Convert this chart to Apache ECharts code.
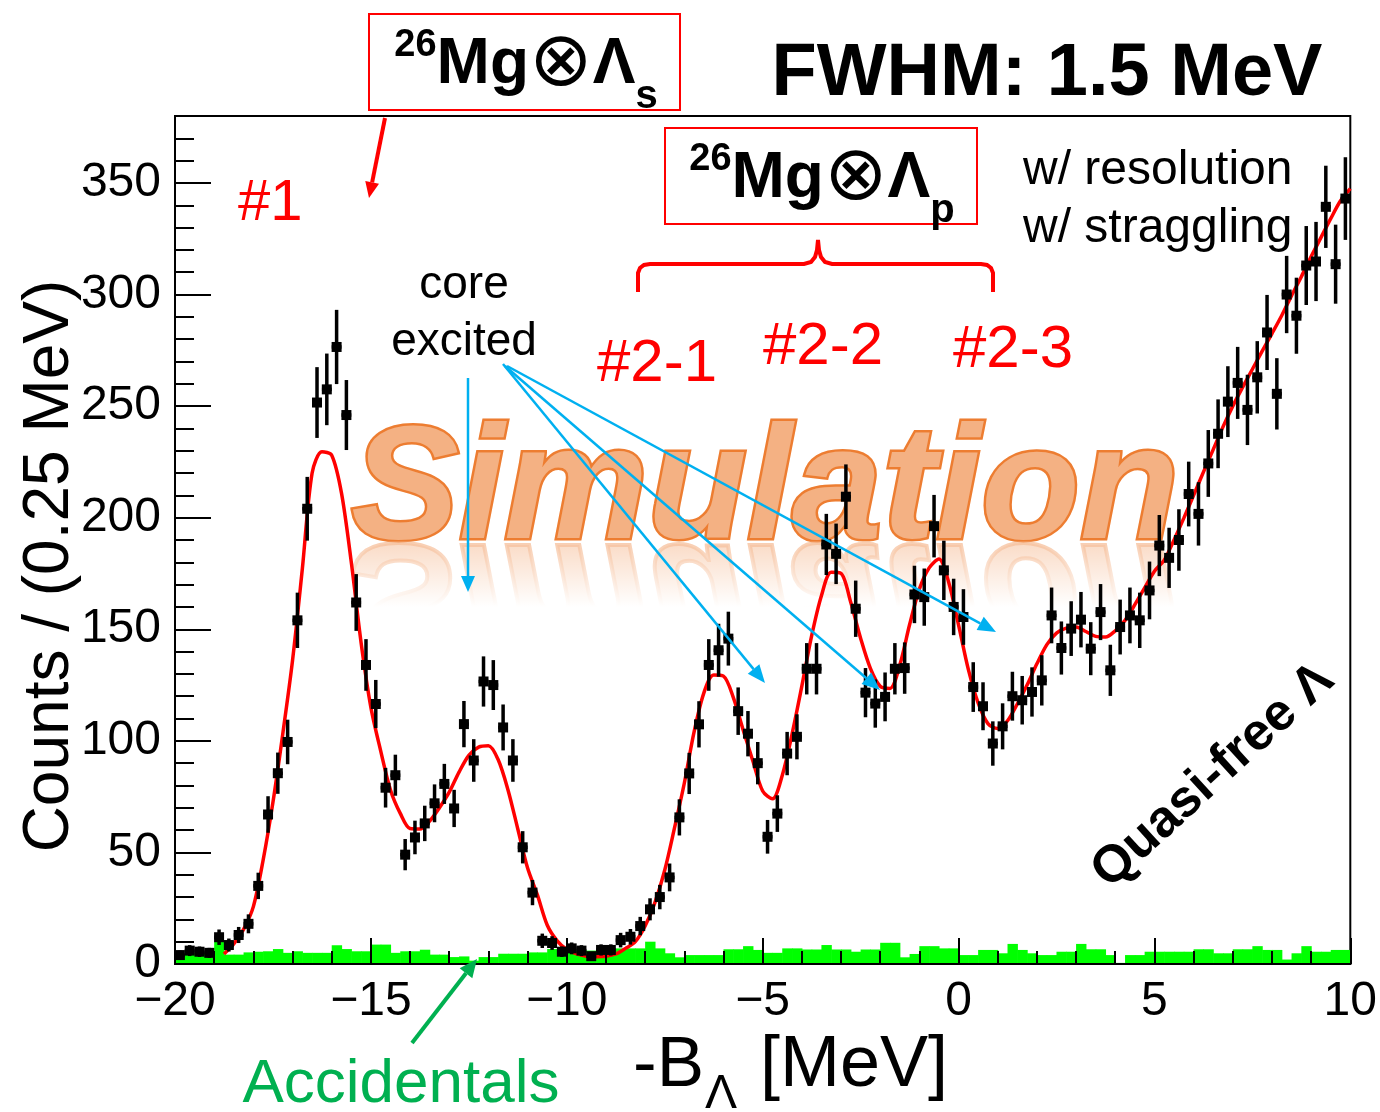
<!DOCTYPE html>
<html><head><meta charset="utf-8">
<script src="https://cdn.jsdelivr.net/npm/echarts@6/dist/echarts.min.js"></script>
<style>html,body{margin:0;padding:0;background:#fff}#c{width:1380px;height:1112px}</style>
</head><body><div id="c"></div>
<script>
// ---- data (0.25 MeV bins from -20 to 10) ----
const binStart = -20;
const binWidth = 0.25;
const counts = [
  4, 6, 5.5, 5, 12, 8.5, 13, 18, 35, 67,
  85.5, 99.5, 154, 204, 251.6, 257.5, 276.5, 246, 162, 134,
  116.5, 79, 84.6, 49, 56.7, 63, 72, 80.7, 69.7, 107.5,
  91.2, 126.6, 125, 106, 91.2, 52.3, 32, 10.4, 9.4, 5.5,
  7, 6, 3.5, 6.3, 6.3, 10.7, 12.2, 17, 24.5, 30,
  38.8, 65.7, 85.4, 107.4, 134, 140.6, 145.8, 113.3, 103.2, 90,
  57, 67.4, 94.3, 101.8, 132.3, 132.3, 188, 183.8, 209.4, 159.2,
  121.6, 116.7, 119.7, 132.3, 132.6, 165.6, 164.4, 196.2, 176.4, 160,
  155.5, 124.1, 115.5, 98.8, 106.5, 120, 118.2, 121.9, 127.1, 156.2,
  141.6, 150.3, 154.3, 141.3, 157.7, 131.6, 151, 156.2, 154, 167.4,
  187.5, 182, 190, 210.6, 201.7, 224.3, 237.6, 252, 260.4, 248.3,
  262.9, 283, 255.5, 300, 290.5, 313, 314.8, 339.3, 313.6, 343
];
const accidentals = [
  4, 5, 5, 5, 10, 4.2, 4.2, 5.2, 5.5, 5.7,
  6.7, 5, 5.7, 5, 5, 5, 8.4, 6.7, 5.7, 5.7,
  8.7, 8.7, 5, 5.7, 5.7, 6.4, 4.2, 4.2, 3.1, 3.4,
  1.5, 3.1, 3.1, 4.6, 4.6, 4.6, 5.2, 5.2, 6.7, 5.7,
  6.1, 6, 6, 6, 6, 7, 7, 7, 10, 7,
  4.8, 3, 4, 4, 4, 4, 6.6, 6.6, 8, 6.3,
  5, 5, 7, 7, 6.5, 6.5, 8.5, 6.5, 6.5, 5.5,
  6.5, 6.5, 9.5, 9.5, 3, 4.5, 8, 8, 7, 7,
  4, 4, 6.3, 6.3, 4.8, 9, 6.3, 4.8, 4, 4,
  5.5, 5.5, 9, 6.6, 6.6, 4, 0.5, 4, 4, 5.5,
  5.5, 5.5, 5.5, 5.5, 6.6, 6.6, 4.8, 4.8, 6.6, 6.6,
  8, 6.3, 6.3, 2, 4.8, 8, 5.5, 5.5, 6.3, 6.3
];
// fitted curve, read every 0.25 MeV starting at -18.75
const fitStart = -18.75;
const fitStep = 0.25;
const fitValues = [
  4.5, 9, 15.5, 25.7, 46.6, 72.5, 103, 136, 177, 220,
  229.5, 228, 211, 180, 144, 115, 95.5, 78, 67.5, 60.7,
  60.5, 64, 70, 77, 86, 93.5, 97.2, 97.8, 91.5, 78,
  60.5, 43, 31, 17.5, 10.5, 6.5, 4.5, 3.5, 3.3, 3.5,
  4.5, 7, 10, 17, 27.5, 42, 61, 81, 104, 121.5,
  129.5, 129, 119.5, 105, 91, 77.5, 74, 84.5, 103, 124.5,
  147, 165, 175.5, 175, 162, 146, 132.5, 124.5, 123.5, 134,
  152, 168, 177.5, 181.5, 171, 152, 132, 117, 107.7, 105.5,
  109, 116.5, 125, 134.5, 143, 148.3, 150.5, 151, 149, 146.8,
  146.5, 149.3, 154, 161, 168.5, 176, 181, 190, 199.8, 210,
  220.4, 230.5, 240.7, 250, 258.4, 266.5, 274.6, 282.5, 290.6, 299.5,
  308, 317, 325.5, 334, 342, 347.5
];
const xRange = [-20, 10];
const yRange = [0, 380];
const xMajor = 5, yMajor = 50, yMinor = 10;

// ---- build ----
const binCenter = i => binStart + binWidth * (i + 0.5);
const pointData = counts.map((v, i) => [binCenter(i), v]);
const accData = accidentals.map((v, i) => [binCenter(i), v]);
const fitData = fitValues.map((v, i) => [fitStart + fitStep * i, v]);

const FONT = '"Liberation Sans", Arial, "DejaVu Sans", sans-serif';
const chart = echarts.init(document.getElementById('c'), null, {renderer: 'canvas'});

function arrow(x1, y1, x2, y2, color, lw, hl, hw, z) {
  const a = Math.atan2(y2 - y1, x2 - x1);
  const bx = x2 - hl * Math.cos(a), by = y2 - hl * Math.sin(a);
  const nx = -Math.sin(a) * hw / 2, ny = Math.cos(a) * hw / 2;
  return [
    {type: 'line', z: z, shape: {x1: x1, y1: y1, x2: bx, y2: by}, style: {stroke: color, lineWidth: lw}},
    {type: 'polygon', z: z, shape: {points: [[x2, y2], [bx + nx, by + ny], [bx - nx, by - ny]]}, style: {fill: color}}
  ];
}

const ORANGE_FILL = '#f4b183';
const ORANGE_LINE = '#ed7d31';
const BLUE = '#00b0f0';
const boxRich = {
  sup: {font: 'bold 38px ' + FONT, fill: '#000', verticalAlign: 'top', lineHeight: 76},
  b: {font: 'bold 64px ' + FONT, fill: '#000', lineHeight: 76},
  o: {font: '76px "DejaVu Sans", ' + FONT, fill: '#000', lineHeight: 76},
  sub: {font: 'bold 40px ' + FONT, fill: '#000', verticalAlign: 'bottom', lineHeight: 40, padding: [0, 0, -14, 0]}
};

const graphics = [
  // Simulation watermark + reflection
  {type: 'text', z: 1, x: 765, y: 493, style: {text: 'Simulation', font: 'italic bold 162px ' + FONT,
    align: 'center', verticalAlign: 'middle', fill: ORANGE_FILL, stroke: ORANGE_LINE, lineWidth: 5}},
  {type: 'text', z: 1, x: 765, y: 590, scaleY: -1, style: {text: 'Simulation', font: 'italic bold 162px ' + FONT,
    align: 'center', verticalAlign: 'middle', fill: 'rgba(244,177,131,0.55)', stroke: 'rgba(237,125,49,0.45)', lineWidth: 4}},
  {type: 'rect', z: 1.5, shape: {x: 330, y: 541, width: 880, height: 200},
    style: {fill: new echarts.graphic.LinearGradient(0, 0, 0, 1, [
      {offset: 0, color: 'rgba(255,255,255,0.15)'}, {offset: 0.33, color: 'rgba(255,255,255,1)'},
      {offset: 1, color: 'rgba(255,255,255,1)'}])}},
  // boxes
  {type: 'rect', z: 100, shape: {x: 369, y: 14, width: 311, height: 96}, style: {fill: '#fff', stroke: '#ff0000', lineWidth: 2}},
  {type: 'text', z: 101, x: 526, y: 65, style: {text: '{sup|26}{b|Mg}{o|⊗}{b|Λ}{sub|s}', align: 'center', verticalAlign: 'middle', rich: boxRich}},
  {type: 'rect', z: 100, shape: {x: 665, y: 128, width: 312, height: 96}, style: {fill: '#fff', stroke: '#ff0000', lineWidth: 2}},
  {type: 'text', z: 101, x: 822, y: 179, style: {text: '{sup|26}{b|Mg}{o|⊗}{b|Λ}{sub|p}', align: 'center', verticalAlign: 'middle', rich: boxRich}},
  {type: 'text', z: 100, x: 1047, y: 75, style: {text: 'FWHM: 1.5 MeV', font: 'bold 74px ' + FONT, fill: '#000', align: 'center', verticalAlign: 'middle'}},
  // red labels
  {type: 'text', z: 100, x: 238, y: 204, style: {text: '#1', font: '58px ' + FONT, fill: '#ff0000', align: 'left', verticalAlign: 'middle'}},
  {type: 'text', z: 100, x: 597, y: 364, style: {text: '#2-1', font: '60px ' + FONT, fill: '#ff0000', align: 'left', verticalAlign: 'middle'}},
  {type: 'text', z: 100, x: 763, y: 347, style: {text: '#2-2', font: '60px ' + FONT, fill: '#ff0000', align: 'left', verticalAlign: 'middle'}},
  {type: 'text', z: 100, x: 953, y: 350, style: {text: '#2-3', font: '60px ' + FONT, fill: '#ff0000', align: 'left', verticalAlign: 'middle'}},
  // brace
  {type: 'polyline', z: 100, shape: {points: [[638, 292], [638, 273], [640, 268], [644, 265], [650, 264], [804, 264], [811, 262],
    [815, 257], [817, 250], [818, 240], [819, 250], [821, 257], [825, 262], [832, 264], [981, 264], [987, 265], [991, 268],
    [993, 273], [993, 292]]}, style: {fill: null, stroke: '#ff0000', lineWidth: 4}},
  // core excited
  {type: 'text', z: 100, x: 464, y: 285, style: {text: 'core', font: '46px ' + FONT, fill: '#000', align: 'center', verticalAlign: 'middle'}},
  {type: 'text', z: 100, x: 464, y: 342, style: {text: 'excited', font: '46px ' + FONT, fill: '#000', align: 'center', verticalAlign: 'middle'}},
  {type: 'text', z: 100, x: 1023, y: 171, style: {text: 'w/ resolution', font: '48px ' + FONT, fill: '#000', align: 'left', verticalAlign: 'middle'}},
  {type: 'text', z: 100, x: 1023, y: 229, style: {text: 'w/ straggling', font: '48px ' + FONT, fill: '#000', align: 'left', verticalAlign: 'middle'}},
  {type: 'text', z: 100, x: 1213, y: 776, rotation: 0.74, style: {text: 'Quasi-free Λ', font: 'bold 52px ' + FONT, fill: '#000', align: 'center', verticalAlign: 'middle'}},
  // axis titles
  {type: 'text', z: 100, x: 50, y: 566, rotation: Math.PI / 2, style: {text: 'Counts / (0.25 MeV)', font: '64px ' + FONT, fill: '#000', align: 'center', verticalAlign: 'middle'}},
  {type: 'text', z: 100, x: 633, y: 1066, style: {text: '-B', font: '71px ' + FONT, fill: '#000', align: 'left', verticalAlign: 'middle'}},
  {type: 'text', z: 100, x: 705, y: 1095, style: {text: 'Λ', font: '48px ' + FONT, fill: '#000', align: 'left', verticalAlign: 'middle'}},
  {type: 'text', z: 100, x: 760, y: 1066, style: {text: '[MeV]', font: '72px ' + FONT, fill: '#000', align: 'left', verticalAlign: 'middle'}},
  {type: 'text', z: 100, x: 401, y: 1085, style: {text: 'Accidentals', font: '62px ' + FONT, fill: '#00b050', align: 'center', verticalAlign: 'middle'}}
].concat(
  arrow(385, 118, 369, 198, '#ff0000', 4, 16, 14, 100),
  arrow(468, 378, 468, 592, BLUE, 2.5, 16, 14, 100),
  arrow(503, 364, 765, 683, BLUE, 2.5, 18, 15, 100),
  arrow(505, 366, 880, 690, BLUE, 2.5, 18, 15, 100),
  arrow(507, 366, 996, 632, BLUE, 2.5, 18, 15, 100),
  arrow(412, 1043, 477, 959, '#00b050', 4, 18, 16, 100)
);

const option = {
  animation: false,
  backgroundColor: '#fff',
  grid: {left: 175, right: 29, top: 116, bottom: 148, show: true, borderColor: '#000', borderWidth: 2, backgroundColor: 'rgba(0,0,0,0)'},
  xAxis: {
    type: 'value', min: xRange[0], max: xRange[1], interval: xMajor, z: 10,
    axisLine: {show: true, onZero: false, lineStyle: {color: '#000', width: 2}},
    axisTick: {show: true, inside: true, length: 26, lineStyle: {color: '#000', width: 2}},
    minorTick: {show: true, splitNumber: 5, length: 13, lineStyle: {color: '#000', width: 2}},
    splitLine: {show: false},
    axisLabel: {fontSize: 48, color: '#000', fontFamily: FONT, margin: 14,
      formatter: v => String(v).replace('-', '\u2212')}
  },
  yAxis: [
    {type: 'value', min: yRange[0], max: yRange[1], interval: yMajor, z: 10,
      axisLine: {show: true, onZero: false, lineStyle: {color: '#000', width: 2}},
      axisTick: {show: true, inside: true, length: 36, lineStyle: {color: '#000', width: 2}},
      minorTick: {show: false},
      splitLine: {show: false},
      axisLabel: {fontSize: 48, color: '#000', fontFamily: FONT, margin: 14,
        formatter: v => (v % yMajor === 0 ? String(v) : '')}},
    {type: 'value', min: yRange[0], max: yRange[1], interval: yMinor, position: 'left', z: 10,
      axisLine: {show: false, onZero: false},
      axisTick: {show: true, inside: true, length: 19, lineStyle: {color: '#000', width: 2}},
      axisLabel: {show: false}, splitLine: {show: false}}
  ],
  series: [
    {type: 'custom', name: 'accidentals', z: 2, data: accData, clip: true,
      renderItem: function (params, api) {
        const x = api.value(0), v = api.value(1);
        const p0 = api.coord([x - binWidth / 2, v]);
        const p1 = api.coord([x + binWidth / 2, 0]);
        return {type: 'rect', shape: {x: p0[0], y: p0[1], width: p1[0] - p0[0] + 0.6, height: p1[1] - p0[1]},
          style: {fill: '#00ff00'}};
      }},
    {type: 'line', name: 'fit', z: 3, data: fitData, smooth: 0.3, showSymbol: false,
      lineStyle: {color: '#ff0000', width: 3.5}},
    {type: 'custom', name: 'data', z: 4, data: pointData,
      renderItem: function (params, api) {
        const x = api.value(0), y = api.value(1), e = Math.sqrt(y);
        const c = api.coord([x, y]);
        const pt = api.coord([x, y + e]);
        const pb = api.coord([x, Math.max(0, y - e)]);
        const pl = api.coord([x - binWidth / 2, y]);
        const pr = api.coord([x + binWidth / 2, y]);
        return {type: 'group', children: [
          {type: 'line', shape: {x1: c[0], y1: pt[1], x2: c[0], y2: pb[1]}, style: {stroke: '#000', lineWidth: 3.5}},
          {type: 'line', shape: {x1: pl[0], y1: c[1], x2: pr[0], y2: c[1]}, style: {stroke: '#000', lineWidth: 3.5}},
          {type: 'rect', shape: {x: c[0] - 5, y: c[1] - 5, width: 10, height: 10}, style: {fill: '#000'}}
        ]};
      }}
  ],
  graphic: graphics
};
chart.setOption(option);
</script>
</body></html>
